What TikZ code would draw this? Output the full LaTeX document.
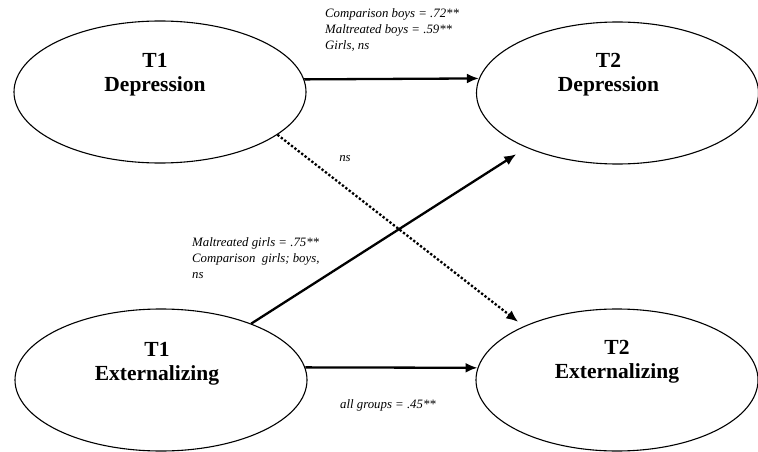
\documentclass[tikz,border=0pt]{standalone}
\usepackage{fontspec}
\setmainfont{Liberation Serif}
\usetikzlibrary{shapes.geometric, arrows.meta, positioning}
\tikzset{
    latent/.style = {
        draw=black, line width=1.1pt, ellipse, inner sep=0pt,
        minimum width=292pt, minimum height=142pt
    },
    title/.style = {font=\fontsize{21.5}{24}\selectfont\bfseries, align=center},
    % Paths and coefficients
    arrow/.style = {line width=2.3pt, -{Latex[length=12pt,width=10pt]}},
    dotted_arrow/.style = {arrow, dotted},
    annotation/.style = {font=\fontsize{12.8}{16}\selectfont\itshape, align=left, inner sep=0pt}
}

\begin{document}
\begin{tikzpicture}[x=1pt, y=-1pt]
    \useasboundingbox (0,0) rectangle (758,452);

    \node (t1dep) [latent] at (160,92) {};
    \node (t2dep) [latent, minimum width=282pt] at (617.5,93) {};
    \node (t1ext) [latent] at (161,380) {};
    \node (t2ext) [latent, minimum width=282pt] at (617,380) {};

    \node (t1deptitle) [title] at ([xshift=-5pt, yshift=17pt]t1dep.center) {T1\\Depression};
    \node (t2deptitle) [title] at ([xshift=-9pt, yshift=18pt]t2dep.center) {T2\\Depression};
    \node (t1exttitle) [title] at ([xshift=-4pt, yshift=16pt]t1ext.center) {T1\\Externalizing};
    \node (t2exttitle) [title] at ([xshift=0pt, yshift=18pt]t2ext.center) {T2\\Externalizing};

    \draw [arrow] (t1dep.5) -- (t2dep.174);
    \draw [arrow] (t1ext.5) -- (t2ext.175);
    \draw [arrow, shorten >=12pt] (t1ext.32) -- (t2dep.211);
    \draw [dotted_arrow, shorten >=7pt] (t1dep.340) -- (t2ext.150);

    \node (coefdep) [annotation, anchor=north west] at (325,8) {Comparison boys = .72**\\Maltreated boys = .59**\\Girls, ns};
    \node (coefns) [annotation] at (345,159) {ns};
    \node (coefcross) [annotation, anchor=north west] at (192,237) {Maltreated girls = .75**\\Comparison~~girls; boys,\\ns};
    \node (coefext) [annotation, anchor=west] at (340,405) {all groups = .45**};
\end{tikzpicture}
\end{document}
